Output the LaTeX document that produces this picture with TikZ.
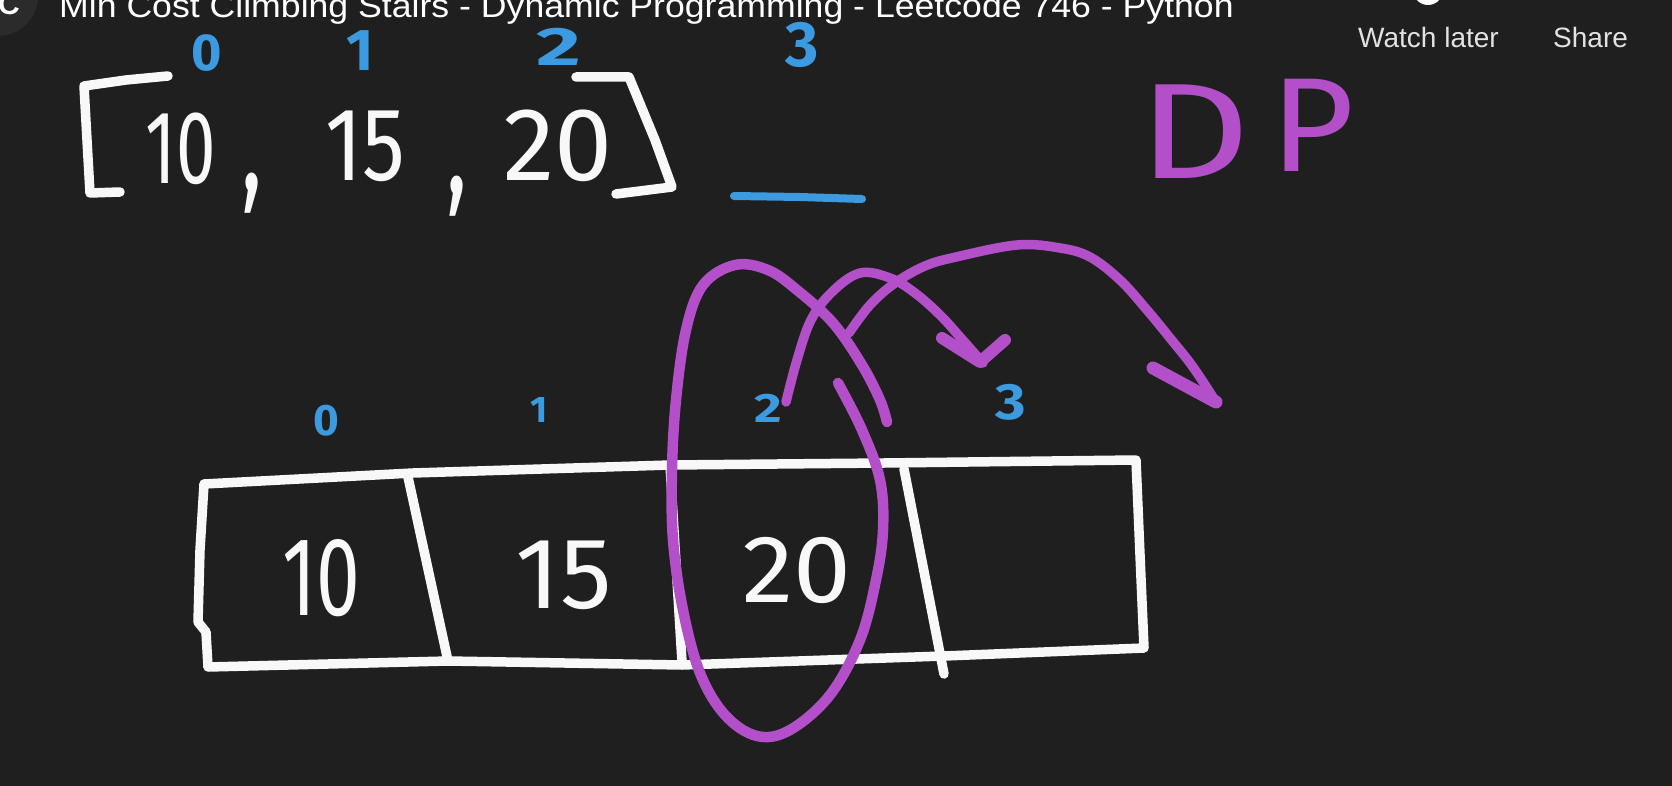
\documentclass[tikz,border=0pt]{standalone}
\usepackage{fontspec}
\newfontfamily\hand{Fira Sans}
\newfontfamily\uifont{Liberation Sans}
\newcommand\fsz[1]{\fontsize{#1}{#1}\selectfont}
\definecolor{bg}{HTML}{1F1F1F}
\definecolor{avatar}{HTML}{2B2B2B}
\definecolor{penwhite}{HTML}{F8F8F8}
\definecolor{penblue}{HTML}{3C9BE0}
\definecolor{penpurple}{HTML}{B24FC9}
\definecolor{uigray}{HTML}{E2E2E2}
\tikzset{
  wline/.style={draw=penwhite, line width=9.5pt, line cap=round, line join=round},
  bline/.style={draw=penblue, line width=8pt, line cap=round, line join=round},
  pline/.style={draw=penpurple, line width=10.5pt, line cap=round, line join=round},
  hw/.style={inner sep=0pt, outer sep=0pt, font=\hand},
  wnum/.style={hw, text=penwhite},
  bnum/.style={hw, text=penblue, font=\hand\bfseries},
  pnum/.style={hw, text=penpurple},
  ui/.style={inner sep=0pt, font=\uifont, text=uigray}
}
\begin{document}
\begin{tikzpicture}[x=1pt,y=-1pt]
\useasboundingbox (0,0) rectangle (1672,786);
\fill[bg] (0,0) rectangle (1672,786);

% --- video overlay ---
\fill[avatar] (-2,-4) circle (40);
\node[ui, text=white, font=\uifont\bfseries\fsz{30}, anchor=base] (logo) at (9,15) {C};
\node[ui, text=white, anchor=base west, font=\uifont\fsz{33}, xscale=1.08] (title) at (59,18) {Min Cost Climbing Stairs - Dynamic Programming - Leetcode 746 - Python};
\fill[white] (1428,-10) circle (15);
\node[ui, anchor=base west, font=\uifont\fsz{28}] (watch) at (1358,48) {Watch later};
\node[ui, anchor=base west, font=\uifont\fsz{28}] (share) at (1553,48) {Share};

% --- top array ---
\draw[wline] (168,76) -- (126,80) -- (84,86) -- (87,140) -- (90,193) -- (120,192);
\draw[wline] (576,77) -- (629,77) -- (655,140) -- (672,187) -- (616,194);
\node[wnum, xscale=0.68] (t10) at (181,149) {\fsz{104}10};
\node[wnum, xscale=0.82] (t15) at (365,146) {\fsz{104}15};
\node[wnum, xscale=1.0] (t20) at (558,146) {\fsz{104}20};
\node[wnum, xscale=0.8, yscale=1.25] (c1) at (252,193) {\fsz{110},};
\node[wnum, xscale=0.8, yscale=1.25] (c2) at (457,196) {\fsz{110},};
\node[bnum] (ti0) at (207,53) {\fsz{52}0};
\node[bnum] (ti1) at (360,51) {\fsz{59}1};
\node[bnum, xscale=1.6] (ti2) at (559,47) {\fsz{54}2};
\node[bnum] (ti3) at (802,45) {\fsz{64}3};
\draw[bline] (734,196) -- (800,197) -- (862,199);

% --- DP ---
\node[pnum, xscale=1.28] (D) at (1195,132) {\fsz{136}D};
\node[pnum, xscale=1.08] (P) at (1313,125) {\fsz{134}P};

% --- lower array box ---
\draw[wline] (204,484) -- (413,473) -- (670,465) -- (884,463) -- (1136,460)
   -- (1140,555) -- (1144,648) -- (944,656) -- (682,665) -- (448,661) -- (208,667)
   -- (206,632) -- (198,622) -- (200,550) -- cycle;
\draw[wline] (408,477) -- (448,661);
\draw[wline] (670,465) -- (682,662);
\draw[wline] (904,469) -- (944,674);
\node[wnum, xscale=0.70] (b10) at (321,578) {\fsz{112}10};
\node[wnum, xscale=1.02] (b15) at (564,575) {\fsz{101}15};
\node[wnum, xscale=1.08] (b20) at (797,570) {\fsz{96}20};
\node[bnum] (bi0) at (326,421) {\fsz{44}0};
\node[bnum] (bi1) at (539,410) {\fsz{37}1};
\node[bnum, xscale=1.3] (bi2) at (768,408) {\fsz{41}2};
\node[bnum, xscale=1.15] (bi3) at (1011,402) {\fsz{51}3};

% --- purple loop around 20 ---
\draw[pline] plot[smooth, tension=0.6] coordinates {
  (838,383) (862,430) (880,480) (883,530) (876,580) (860,640) (830,695)
  (790,730) (757,736) (725,715) (700,673) (683,610) (673,540) (672,470)
  (676,400) (686,330) (703,285) (735,265) (768,270) (797,290) (833,323)
  (862,365) (880,400) (887,422)};
% arrow to 3
\draw[pline, line width=9.5pt] plot[smooth, tension=0.6] coordinates {
  (786,402) (797,360) (811,320) (832,292) (860,273) (890,278) (915,293)
  (940,315) (960,337) (983,363)};
\draw[pline, line width=12pt] (942,338) -- (980,362) -- (1005,340);
% arrow beyond
\draw[pline, line width=9.5pt] plot[smooth, tension=0.6] coordinates {
  (849,333) (870,305) (895,283) (925,266) (956,257) (1017,245) (1060,248)
  (1090,257) (1120,280) (1147,310) (1170,338) (1193,367) (1216,402)};
\draw[pline, line width=13pt] (1153,368) -- (1216,402);
\end{tikzpicture}
\end{document}
